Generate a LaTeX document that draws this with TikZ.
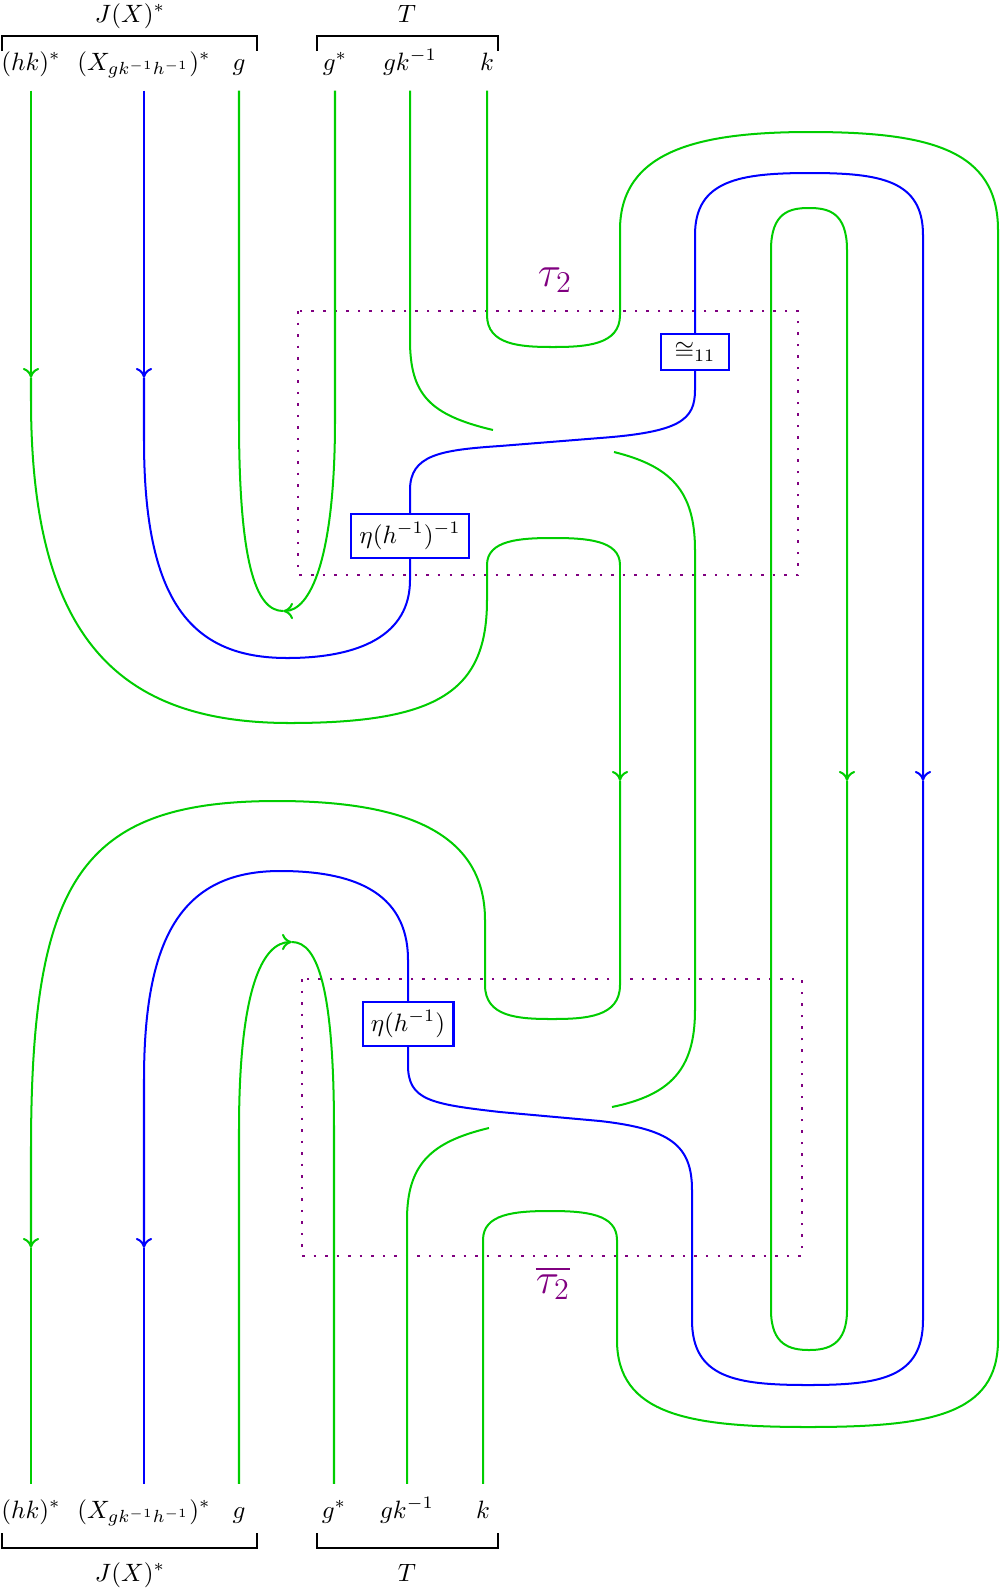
\documentclass[tikz,border=0pt]{standalone}
\usepackage{tikz}
\usepackage{amsmath}
\usetikzlibrary{arrows.meta}

\definecolor{strandgreen}{RGB}{0,205,0}
\definecolor{regionpurple}{RGB}{128,0,128}
\tikzset{
  >={Computer Modern Rightarrow[length=4pt, width=6.5pt]},
  gline/.style={strandgreen, line width=0.8pt},
  bline/.style={blue, line width=0.8pt},
  lbl/.style={anchor=base, text height=1.5ex, text depth=0.25ex, inner ysep=6.9pt},
  mbox/.style={draw=blue, line width=0.8pt, fill=white},
  dotbox/.style={regionpurple, line width=1pt, dash pattern=on 1pt off 3.6pt},
  brk/.style={black, line width=0.8pt}
}

\begin{document}
\begin{tikzpicture}[x=0.014cm, y=-0.014cm]
        \useasboundingbox (0,0) rectangle (1000,1590);
        \path
            (31, 70) node[lbl] (0){$(hk)^*$}
            (144, 70) node[lbl] (1){$(X_{gk^{-1}h^{-1}})^*$}
            (239, 70) node[lbl] (2){$g$}
            (335, 70) node[lbl] (3){$g^*$}
            (410, 70) node[lbl] (4){$gk^{-1}$}
            (487, 70) node[lbl] (5){$k$}
            (31, 1518) node[lbl] (6){$(hk)^*$}
            (144, 1518) node[lbl] (7){$(X_{gk^{-1}h^{-1}})^*$}
            (239, 1518) node[lbl] (8){$g$}
            (334, 1518) node[lbl] (9){$g^*$}
            (407, 1518) node[lbl] (10){$gk^{-1}$}
            (483, 1518) node[lbl] (11){$k$}
            (130, 22) node[anchor=base] (12){$J(X)^*$}
            (407, 22) node[anchor=base] (13){$T$}
            (130, 1581) node[anchor=base] (14){$J(X)^*$}
            (407, 1581) node[anchor=base] (15){$T$};
        \draw[brk] (2,51) -- (2,36) -- (257,36) -- (257,51);
        \draw[brk] (317,51) -- (317,36) -- (498,36) -- (498,51);
        \draw[brk] (2,1533) -- (2,1548) -- (257,1548) -- (257,1533);
        \draw[brk] (317,1533) -- (317,1548) -- (498,1548) -- (498,1533);
        \draw[dotbox] (298,311) rectangle (798,575);
        \draw[dotbox] (302,979) rectangle (802,1256);
        \path
            (555, 280) node[text=regionpurple] (16){\LARGE$\tau_2$}
            (553, 1283) node[text=regionpurple] (17){\LARGE$\overline{\tau_2}$}
            (410, 536) node[mbox] (18){$\eta(h^{-1})^{-1}$}
            (695, 352) node[mbox, minimum width=27pt] (19){$\cong_{11}$}
            (408, 1024) node[mbox] (20){$\eta(h^{-1})$};
        \coordinate (c1) at (493,430);
        \coordinate (c2) at (614,452);
        \coordinate (c3) at (612,1107);
        \coordinate (c4) at (489,1128);
        \begin{scope}[->]
            \draw[gline] (0.south) -- (31,378);
            \draw[gline] (620,565) -- (620,781);
            \draw[gline] (485,985) -- (485,920) .. controls (485,830) and (400,801) .. (277,801)
                .. controls (80,801) and (31,880) .. (31,1150) -- (31,1248);
            \draw[bline] (1.south) -- (144,378);
            \draw[bline] (19.north) -- (695,235) .. controls (695,180) and (740,173) .. (810,173)
                .. controls (880,173) and (923,180) .. (923,235) -- (923,781);
            \draw[bline] (20.north) -- (408,960) .. controls (408,890) and (350,871) .. (280,871)
                .. controls (180,871) and (144,940) .. (144,1080) -- (144,1248);
            \draw[gline] (3.south) -- (335,420) .. controls (335,560) and (310,611) .. (283,611);
            \draw[gline] (8.north) -- (239,1130) .. controls (239,990) and (262,942) .. (292,942);
            \draw[gline] (771,781) -- (771,250) .. controls (771,212) and (790,208) .. (809,208)
                .. controls (828,208) and (847,212) .. (847,250) -- (847,781);
        \end{scope}
        \draw[gline] (31,378) -- (31,400) .. controls (31,640) and (120,723) .. (290,723)
            .. controls (440,723) and (487,690) .. (487,600) -- (487,565)
            .. controls (487,540) and (520,538) .. (553,538) .. controls (586,538) and (620,540) .. (620,565);
        \draw[gline] (620,781) -- (620,985) .. controls (620,1017) and (586,1019) .. (552,1019)
            .. controls (518,1019) and (485,1017) .. (485,985);
        \draw[gline] (31,1248) -- (6.north);
        \draw[bline] (144,378) -- (144,440) .. controls (144,600) and (190,658) .. (287,658)
            .. controls (360,658) and (410,635) .. (410,580) -- (18.south);
        \draw[bline] (18.north) -- (410,490) .. controls (410,455) and (440,450) .. (500,446) -- (600,438)
            .. controls (680,432) and (695,420) .. (695,390) -- (19.south);
        \draw[bline] (923,781) -- (923,1320) .. controls (923,1378) and (880,1385) .. (808,1385)
            .. controls (736,1385) and (692,1378) .. (692,1320) -- (692,1190)
            .. controls (692,1145) and (670,1129) .. (600,1121) -- (500,1112)
            .. controls (430,1104) and (408,1100) .. (408,1065) -- (20.south);
        \draw[bline] (144,1248) -- (7.north);
        \draw[gline] (283,611) .. controls (255,611) and (239,560) .. (239,420) -- (2.south);
        \draw[gline] (292,942) .. controls (318,942) and (334,990) .. (334,1130) -- (9.north);
        \draw[gline] (4.south) -- (410,340) .. controls (410,395) and (430,415) .. (c1)
            (c2) .. controls (670,466) and (695,490) .. (695,550) -- (695,1010)
            .. controls (695,1070) and (670,1095) .. (c3)
            (c4) .. controls (430,1142) and (407,1165) .. (407,1220) -- (10.north);
        \draw[gline] (5.south) -- (487,315) .. controls (487,345) and (520,347) .. (553,347)
            .. controls (586,347) and (620,345) .. (620,315) -- (620,230)
            .. controls (620,150) and (700,132) .. (810,132) .. controls (930,132) and (998,150) .. (998,230)
            -- (998,1340) .. controls (998,1415) and (930,1427) .. (808,1427)
            .. controls (690,1427) and (617,1415) .. (617,1340) -- (617,1240)
            .. controls (617,1214) and (586,1211) .. (550,1211) .. controls (514,1211) and (483,1214) .. (483,1240)
            -- (11.north);
        \draw[gline] (847,781) -- (847,1310) .. controls (847,1345) and (828,1350) .. (809,1350)
            .. controls (790,1350) and (771,1345) .. (771,1310) -- (771,781);
  \end{tikzpicture}
\end{document}
